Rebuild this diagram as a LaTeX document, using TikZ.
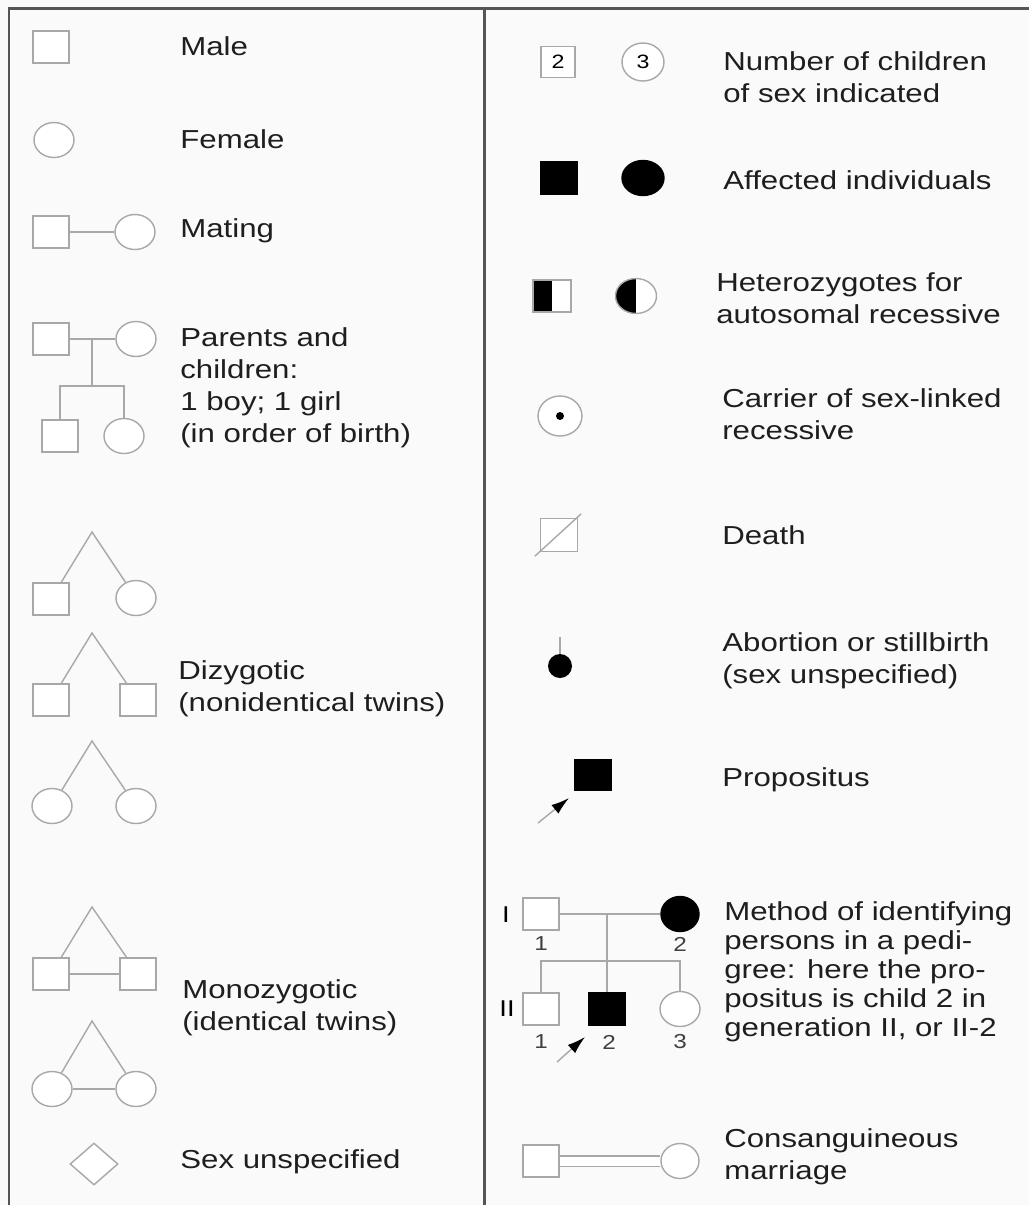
\documentclass[tikz,border=0pt]{standalone}
\usepackage{fontspec}
\setmainfont{Liberation Sans}[FakeStretch=1.2]
\usetikzlibrary{shapes.geometric,arrows.meta}
\definecolor{symgray}{HTML}{A8A8A8}
\definecolor{framegray}{HTML}{555555}
\definecolor{inkgray}{HTML}{1E1E1E}
\definecolor{paper}{HTML}{FAFAFA}
\tikzset{male/.style={rectangle,draw=symgray,fill=white,line width=0.8pt,
   minimum width=0.72cm,minimum height=0.64cm,inner sep=0pt},
 female/.style={ellipse,draw=symgray,fill=white,line width=0.8pt,
   minimum width=0.8cm,minimum height=0.7cm,inner sep=0pt},
 unknownsex/.style={diamond,draw=symgray,fill=white,line width=0.8pt,
   minimum width=0.96cm,minimum height=0.84cm,inner sep=0pt},
 affected/.style={fill=black,draw=black},
 halfblack/.style={path picture={\fill[black] (path picture bounding box.south west)
   rectangle (path picture bounding box.north);}},
 kin/.style={draw=symgray,line width=0.8pt},
 legendtext/.style={anchor=west,align=left,text=inkgray,inner sep=0pt,
   font=\fontsize{14.8pt}{18.2pt}\selectfont},
 tagtext/.style={text=inkgray!85,inner sep=0pt,font=\fontsize{11.5pt}{13pt}\selectfont},
 pointer/.style={draw=symgray,line width=0.8pt,
   -{Latex[color=black,fill=black,length=0.36cm,width=0.22cm]}},
 }

\begin{document}
\begin{tikzpicture}[x=0.02cm,y=-0.02cm]
    \fill[paper] (0,0) rectangle (1029,1205);
    \useasboundingbox (0,0) rectangle (1029,1205);
    % frame
    \draw[framegray, line width=0.06cm] (9,1205) -- (9,8) -- (1029,8);
    \draw[framegray, line width=0.06cm] (484,8) -- (484,1205);

    % left column
    \node[male] (male) at (51,47) {};
    \node[legendtext] (tmale) at (180,46) {Male};
    \node[female] (female) at (54,140) {};
    \node[legendtext] (tfemale) at (180,139) {Female};

    \node[male] (matm) at (51,232) {};
    \node[female] (matf) at (135,232) {};
    \draw[kin] (matm) -- (matf);
    \node[legendtext] (tmating) at (180,231) {Mating};

    \node[male] (pm) at (51,339) {};
    \node[female] (pf) at (136,339) {};
    \coordinate (pmid) at (92,339);
    \coordinate (psib) at (92,386);
    \node[male] (pc1) at (60,436) {};
    \node[female] (pc2) at (124,436) {};
    \draw[kin] (pm) -- (pf);
    \draw[kin] (pmid) -- (psib);
    \draw[kin] (pc1.north) |- (psib) -| (pc2.north);
    \node[legendtext] (tparents) at (180,388)
        {Parents and\\children:\\1 boy; 1 girl\\(in order of birth)};

    \coordinate (dz1top) at (92,532);
    \node[male] (dz1a) at (51,599) {};
    \node[female] (dz1b) at (136,598) {};
    \draw[kin] (dz1a) -- (dz1top) -- (dz1b);
    \coordinate (dz2top) at (92,633);
    \node[male] (dz2a) at (51,700) {};
    \node[male] (dz2b) at (138,700) {};
    \draw[kin] (dz2a) -- (dz2top) -- (dz2b);
    \coordinate (dz3top) at (92,741);
    \node[female] (dz3a) at (52,806) {};
    \node[female] (dz3b) at (136,806) {};
    \draw[kin] (dz3a) -- (dz3top) -- (dz3b);
    \node[legendtext] (tdizyg) at (178,689) {Dizygotic\\(nonidentical twins)};

    \coordinate (mz1top) at (92,907);
    \node[male] (mz1a) at (51,974) {};
    \node[male] (mz1b) at (138,974) {};
    \draw[kin] (mz1a) -- (mz1top) -- (mz1b);
    \draw[kin] (mz1a) -- (mz1b);
    \coordinate (mz2top) at (92,1021);
    \node[female] (mz2a) at (52,1089) {};
    \node[female] (mz2b) at (136,1089) {};
    \draw[kin] (mz2a) -- (mz2top) -- (mz2b);
    \draw[kin] (mz2a) -- (mz2b);
    \node[legendtext] (tmonozyg) at (182,1008) {Monozygotic\\(identical twins)};

    \node[unknownsex] (unk) at (94,1164) {};
    \node[legendtext] (tunk) at (180,1162) {Sex unspecified};

    % right column
    \node[male, minimum width=0.68cm, minimum height=0.62cm] (nsq) at (558,62) {\fontsize{11pt}{13pt}\selectfont 2};
    \node[female, minimum width=0.84cm, minimum height=0.76cm] (nci) at (643,62) {\fontsize{11pt}{13pt}\selectfont 3};
    \node[legendtext] (tnumber) at (723,77) {Number of children\\of sex indicated};

    \node[male, affected] (asq) at (559,178) {};
    \node[female, affected, minimum width=0.84cm] (aci) at (643,178) {};
    \node[legendtext] (taffected) at (723,180) {Affected individuals};

    \node[male, halfblack, minimum width=0.76cm] (hsq) at (552,296) {};
    \node[female, halfblack, minimum width=0.82cm] (hci) at (636,296) {};
    \node[legendtext] (thetero) at (716,298) {Heterozygotes for\\autosomal recessive};

    \node[female, minimum width=0.88cm, minimum height=0.8cm] (carrier) at (560,416) {};
    \node[circle, fill=black, minimum size=0.16cm, inner sep=0pt] (cdot) at (carrier.center) {};
    \node[legendtext] (tcarrier) at (722,414) {Carrier of sex-linked\\recessive};

    \node[male, minimum width=0.74cm, minimum height=0.66cm] (death) at (559,535) {};
    \draw[kin] ([shift={(-5,4)}]death.south west) -- ([shift={(3,-4)}]death.north east);
    \node[legendtext] (tdeath) at (722,535) {Death};

    \coordinate (abtop) at (560,637);
    \node[circle, fill=black, minimum size=0.48cm, inner sep=0pt] (abort) at (560,666) {};
    \draw[kin] (abtop) -- (abort);
    \node[legendtext] (tabort) at (722,661) {Abortion or stillbirth\\(sex unspecified)};

    \node[male, affected, minimum height=0.6cm] (prop) at (593,775) {};
    \coordinate (proptail) at (538,823);
    \coordinate (prophead) at (569,798);
    \draw[pointer] (proptail) -- (prophead);
    \node[legendtext] (tprop) at (722,780) {Propositus};

    % pedigree example
    \node[male] (g1a) at (541,914) {};
    \node[female, affected, minimum width=0.76cm] (g1b) at (680,914) {};
    \coordinate (gmid) at (607,914);
    \coordinate (gsib) at (607,961);
    \node[male] (g2a) at (541,1009) {};
    \node[male, affected] (g2b) at (607,1009) {};
    \node[female] (g2c) at (680,1009) {};
    \draw[kin] (g1a) -- (g1b);
    \draw[kin] (gmid) -- (gsib) -- (g2b);
    \draw[kin] (g2a.north) |- (gsib) -| (g2c.north);
    \node[tagtext, text=black, font=\fontsize{13pt}{14pt}\selectfont] (gen1) at (506,915) {I};
    \node[tagtext, text=black, font=\fontsize{13pt}{14pt}\selectfont] (gen2) at (507,1009) {II};
    \node[tagtext] (n11) at (541,944) {1};
    \node[tagtext] (n12) at (680,944) {2};
    \node[tagtext] (n21) at (541,1042) {1};
    \node[tagtext] (n22) at (609,1042) {2};
    \node[tagtext] (n23) at (680,1042) {3};
    \coordinate (gptail) at (557,1062);
    \coordinate (gphead) at (585,1037);
    \draw[pointer] (gptail) -- (gphead);
    \node[legendtext, font=\fontsize{14.8pt}{16.5pt}\selectfont] (tmethod) at (724,972)
        {Method of identifying\\persons in a pedi-\\gree: here the pro-\\positus is child 2 in\\generation II, or II-2};

    \node[male] (csq) at (541,1161) {};
    \node[female, minimum width=0.76cm] (cci) at (680,1161) {};
    \draw[kin, double=white, double distance=0.18cm] (csq) -- (cci);
    \node[legendtext] (tcons) at (724,1157) {Consanguineous\\marriage};
\end{tikzpicture}
\end{document}
